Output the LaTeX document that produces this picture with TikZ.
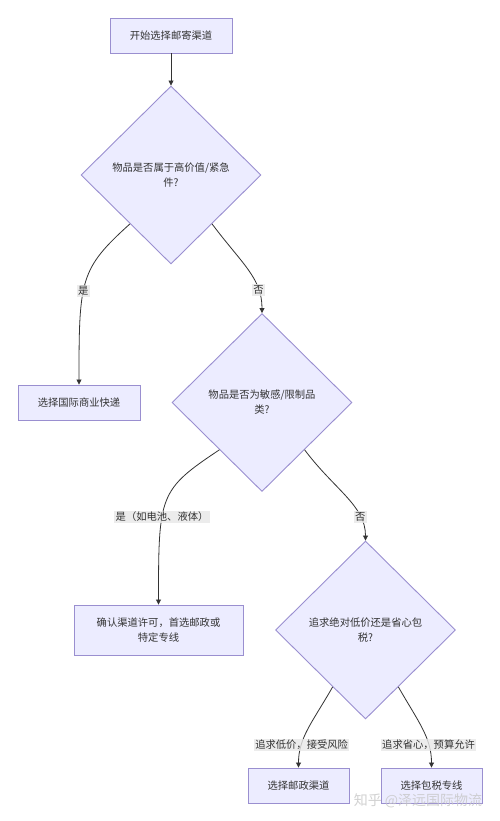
\documentclass[tikz,border=0pt]{standalone}
\usepackage{fontspec}
\setmainfont{Noto Sans CJK SC}
\usetikzlibrary{shapes.geometric,arrows.meta}
\definecolor{nodefill}{HTML}{ECECFF}
\definecolor{nodestroke}{HTML}{9A8FD0}
\definecolor{txt}{HTML}{333333}
\definecolor{lblbg}{HTML}{E8E8E8}
\tikzset{
  base/.style={fill=nodefill, draw=nodestroke, line width=0.9pt, text=txt, font=\fontsize{10.3}{15}\selectfont, align=center},
  procbox/.style={base, rectangle, inner sep=0pt},
  decision/.style={base, diamond, inner sep=0pt, minimum width=180pt, minimum height=178pt},
  conn/.style={draw=txt, line width=0.8pt, -{Triangle[length=5pt,width=5pt]}},
  lbl/.style={fill=lblbg, fill opacity=0.8, text opacity=1, text=txt, font=\fontsize{10.3}{15}\selectfont, inner sep=1.5pt}
}
\begin{document}
\begin{tikzpicture}[x=1pt,y=-1pt]
\useasboundingbox[fill=white] (0,0) rectangle (500,821);
\node[procbox, minimum width=122pt, minimum height=35pt] (start) at (171,35.5) {开始选择邮寄渠道};
\node[decision] (d1) at (171,175) {物品是否属于高价值/紧急\\件?};
\node[procbox, minimum width=122pt, minimum height=35pt] (b1) at (79,402.5) {选择国际商业快递};
\node[decision] (d2) at (262,402.5) {物品是否为敏感/限制品\\类?};
\node[procbox, minimum width=169pt, minimum height=50pt] (b2) at (158.5,630) {确认渠道许可，首选邮政或\\特定专线};
\node[decision] (d3) at (365.5,630) {追求绝对低价还是省心包\\税?};
\node[procbox, minimum width=101pt, minimum height=35pt] (b3) at (298.5,785.5) {选择邮政渠道};
\node[procbox, minimum width=101pt, minimum height=35pt] (b4) at (431.5,785.5) {选择包税专线};

\draw[conn] (start) -- (d1);
\draw[conn] (d1.-130) .. controls +(-50,45) and +(0,-105) .. node[lbl, pos=0.57] {是} (b1.north);
\draw[conn] (d1.-50) .. controls +(30,40) and +(0,-35) .. node[lbl, pos=0.75] {否} (d2.north);
\draw[conn] (d2.-132) .. controls +(-60,40) and +(0,-110) .. node[lbl, pos=0.62] {是（如电池、液体）} (b2.north);
\draw[conn] (d2.-48) .. controls +(30,40) and +(0,-35) .. node[lbl, pos=0.75] {否} (d3.north);
\draw[conn] (d3.-120) .. controls +(-20,35) and +(0,-30) .. node[lbl, pos=0.72] {追求低价，接受风险} (b3.north);
\draw[conn] (d3.-60) .. controls +(20,35) and +(0,-30) .. node[lbl, pos=0.72] {追求省心，预算允许} (b4.north);

\node[text=gray!45, opacity=0.8, font=\fontsize{14}{16}\selectfont] (wm) at (418,801) {知乎 @泽远国际物流};
\end{tikzpicture}
\end{document}
